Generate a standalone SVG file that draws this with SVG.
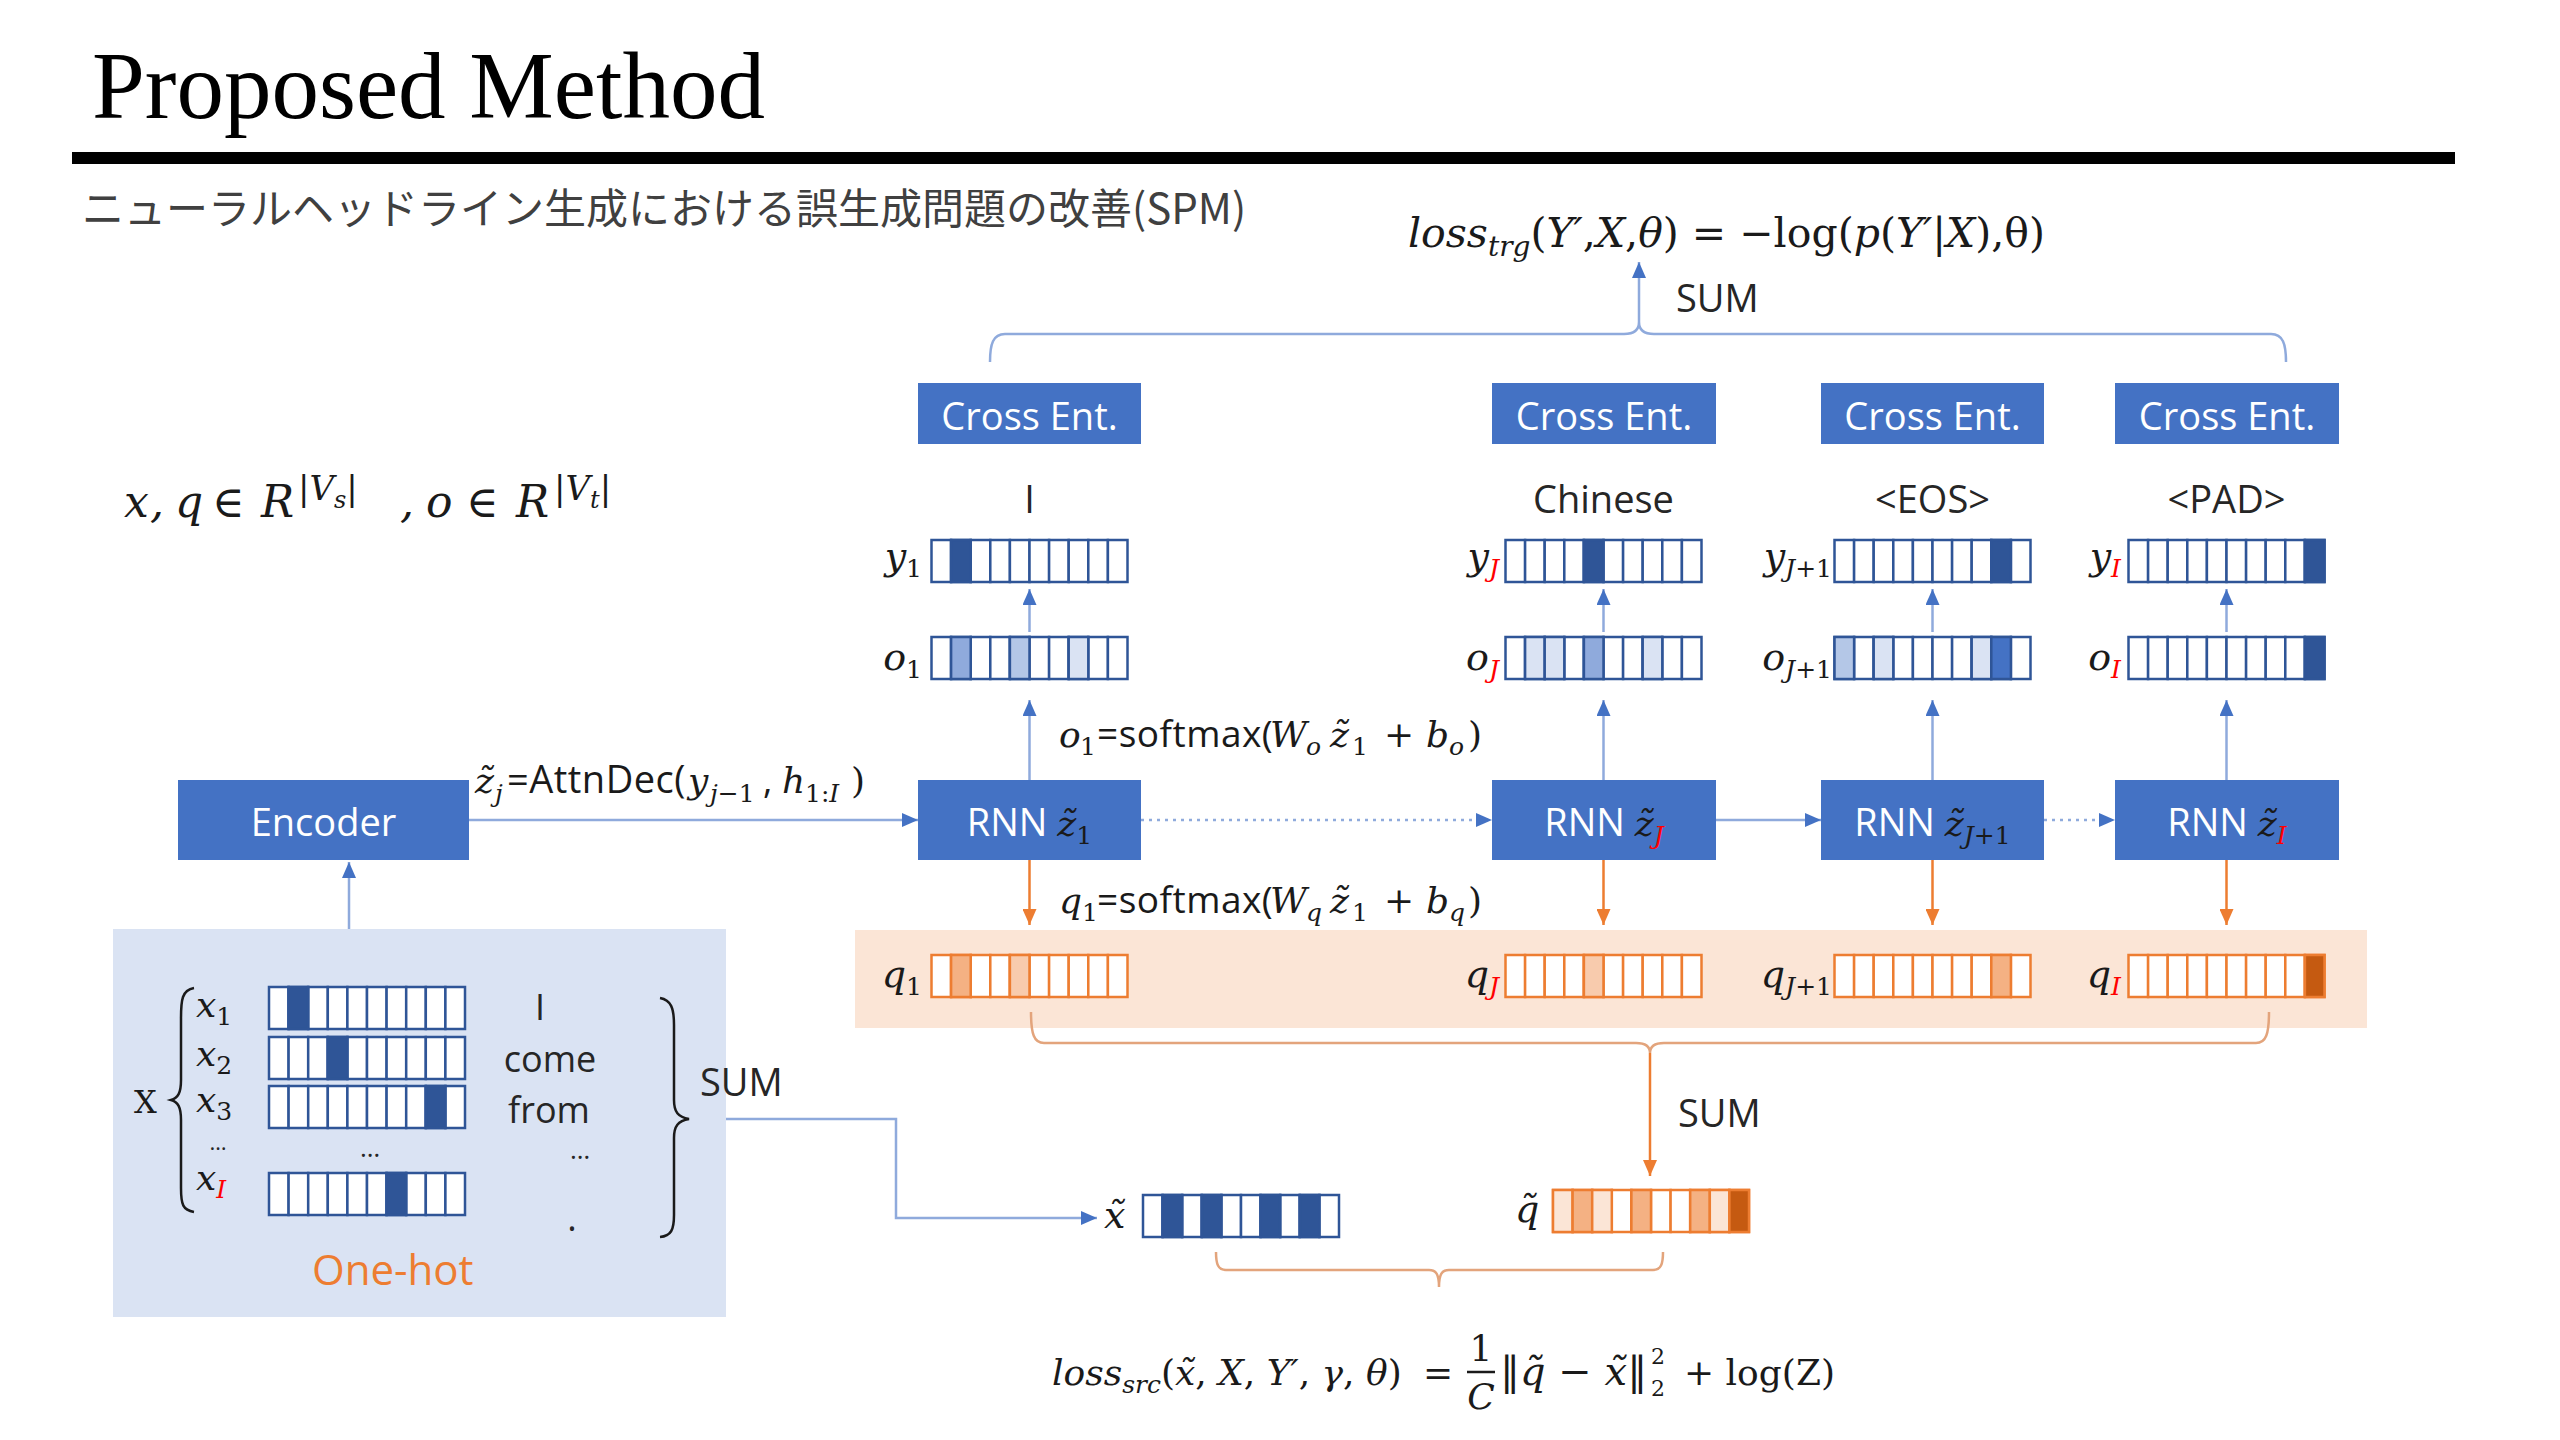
<svg xmlns="http://www.w3.org/2000/svg" xmlns:xlink="http://www.w3.org/1999/xlink" width="2560" height="1440" viewBox="0 0 2560 1440">
<style>
.t{font-family:"Open Sans","Noto Sans","Liberation Sans",sans-serif;fill:#262626;font-size:38px}
.w{fill:#ffffff}
.mi{font-family:"DejaVu Serif","Liberation Serif",serif;font-style:italic;fill:#1a1a1a;font-size:36px}
.mr{font-style:normal}
.ss{font-family:"Open Sans","Noto Sans","Liberation Sans",sans-serif;font-style:normal}
.sb{font-size:25px}
.red{fill:#ff0000}
.box{fill:#4472c4}
.cb{fill:#ffffff;stroke:#2f5597;stroke-width:2.5}
.co{fill:#ffffff;stroke:#ed7d31;stroke-width:2.5}
.dk{fill:#2f5597}
.b4{fill:#4472c4}
.m1{fill:#8faadc}
.m2{fill:#b4c7e7}
.l1{fill:#dae3f3}
.od{fill:#c55a11}
.om{fill:#f4b183}
.ol{fill:#f8cbad}
.ox{fill:#fbe5d6}
.ln{fill:none;stroke:#8faadc;stroke-width:2.5}
.lo{fill:none;stroke:#ed7d31;stroke-width:2.5}
.br{fill:none;stroke:#e3a47c;stroke-width:2.5}
.dot{stroke-dasharray:3 5}
.bk{fill:none;stroke:#1a1a1a;stroke-width:2.5}
.vl{font-size:38px}
</style>
<defs>
<marker id="ab" viewBox="0 0 16 14" refX="16" refY="7" markerWidth="16" markerHeight="14" markerUnits="userSpaceOnUse" orient="auto"><path d="M0,0 L16,7 L0,14 z" fill="#4472c4"/></marker>
<marker id="ao" viewBox="0 0 16 14" refX="16" refY="7" markerWidth="16" markerHeight="14" markerUnits="userSpaceOnUse" orient="auto"><path d="M0,0 L16,7 L0,14 z" fill="#ed7d31"/></marker>
<g id="vb">
<rect class="cb" x="0" y="0" width="19.6" height="42"/><rect class="cb" x="19.6" y="0" width="19.6" height="42"/><rect class="cb" x="39.2" y="0" width="19.6" height="42"/><rect class="cb" x="58.8" y="0" width="19.6" height="42"/><rect class="cb" x="78.4" y="0" width="19.6" height="42"/><rect class="cb" x="98" y="0" width="19.6" height="42"/><rect class="cb" x="117.6" y="0" width="19.6" height="42"/><rect class="cb" x="137.2" y="0" width="19.6" height="42"/><rect class="cb" x="156.8" y="0" width="19.6" height="42"/><rect class="cb" x="176.4" y="0" width="19.6" height="42"/>
</g>
<g id="vo">
<rect class="co" x="0" y="0" width="19.6" height="42"/><rect class="co" x="19.6" y="0" width="19.6" height="42"/><rect class="co" x="39.2" y="0" width="19.6" height="42"/><rect class="co" x="58.8" y="0" width="19.6" height="42"/><rect class="co" x="78.4" y="0" width="19.6" height="42"/><rect class="co" x="98" y="0" width="19.6" height="42"/><rect class="co" x="117.6" y="0" width="19.6" height="42"/><rect class="co" x="137.2" y="0" width="19.6" height="42"/><rect class="co" x="156.8" y="0" width="19.6" height="42"/><rect class="co" x="176.4" y="0" width="19.6" height="42"/>
</g>
</defs>

<rect width="2560" height="1440" fill="#ffffff"/>

<g id="header">
<text x="92" y="118" font-family="Liberation Serif, serif" font-size="95" fill="#000">Proposed Method</text>
<rect x="72" y="152" width="2383" height="12" fill="#000"/>
<text x="82" y="224" font-family="Noto Sans CJK JP, sans-serif" font-size="42" fill="#404040">ニューラルヘッドライン生成における誤生成問題の改善(SPM)</text>
</g>

<g id="domain-formula">
<text class="mi" y="517" style="font-size:44px"><tspan x="124">x</tspan><tspan x="150">,</tspan><tspan x="175">q</tspan><tspan x="212" class="mr">∈</tspan><tspan x="261">R</tspan><tspan x="298" y="500" style="font-size:34px" class="mr">|</tspan><tspan style="font-size:34px" y="500">V</tspan><tspan style="font-size:24px" y="508">s</tspan><tspan style="font-size:34px" y="500" class="mr">|</tspan><tspan x="400" y="517">,</tspan><tspan x="426">o</tspan><tspan x="466" class="mr">∈</tspan><tspan x="516">R</tspan><tspan x="554" y="500" style="font-size:34px" class="mr">|</tspan><tspan style="font-size:34px" y="500">V</tspan><tspan style="font-size:24px" y="508">t</tspan><tspan style="font-size:34px" y="500" class="mr">|</tspan></text>
</g>

<g id="loss-trg">
<text class="mi" x="1408" y="247" style="font-size:41px">loss<tspan style="font-size:28px" dy="9">trg</tspan><tspan class="mr" dy="-9">(</tspan>Y′<tspan class="mr">,</tspan>X<tspan class="mr">,</tspan>θ<tspan class="mr">) = −log(</tspan>p<tspan class="mr">(</tspan>Y′<tspan class="mr">|</tspan>X<tspan class="mr">),θ)</tspan></text>
<text class="t" x="1676" y="312">SUM</text>
</g>

<g id="connectors">
<path class="ln" d="M990,362 C990,344 993,334 1005,334 L1624,334 C1634,334 1639,330 1639,322 C1639,330 1644,334 1654,334 L2271,334 C2283,334 2286,344 2286,362"/>
<line class="ln" x1="1639" y1="322" x2="1639" y2="262" marker-end="url(#ab)"/>
<line class="ln" x1="1029.5" y1="632" x2="1029.5" y2="589" marker-end="url(#ab)"/>
<line class="ln" x1="1603.5" y1="632" x2="1603.5" y2="589" marker-end="url(#ab)"/>
<line class="ln" x1="1932.5" y1="632" x2="1932.5" y2="589" marker-end="url(#ab)"/>
<line class="ln" x1="2226.5" y1="632" x2="2226.5" y2="589" marker-end="url(#ab)"/>
<line class="ln" x1="1029.5" y1="780" x2="1029.5" y2="700" marker-end="url(#ab)"/>
<line class="ln" x1="1603.5" y1="780" x2="1603.5" y2="700" marker-end="url(#ab)"/>
<line class="ln" x1="1932.5" y1="780" x2="1932.5" y2="700" marker-end="url(#ab)"/>
<line class="ln" x1="2226.5" y1="780" x2="2226.5" y2="700" marker-end="url(#ab)"/>
<line class="ln" x1="469" y1="820" x2="918" y2="820" marker-end="url(#ab)"/>
<line class="ln dot" x1="1141" y1="820" x2="1492" y2="820" marker-end="url(#ab)"/>
<line class="ln" x1="1716" y1="820" x2="1821" y2="820" marker-end="url(#ab)"/>
<line class="ln dot" x1="2044" y1="820" x2="2115" y2="820" marker-end="url(#ab)"/>
<line class="ln" x1="349" y1="929" x2="349" y2="862" marker-end="url(#ab)"/>
<line class="lo" x1="1029.5" y1="860" x2="1029.5" y2="925" marker-end="url(#ao)"/>
<line class="lo" x1="1603.5" y1="860" x2="1603.5" y2="925" marker-end="url(#ao)"/>
<line class="lo" x1="1932.5" y1="860" x2="1932.5" y2="925" marker-end="url(#ao)"/>
<line class="lo" x1="2226.5" y1="860" x2="2226.5" y2="925" marker-end="url(#ao)"/>
<polyline class="ln" points="689,1119 896,1119 896,1218 1097,1218" marker-end="url(#ab)"/>
</g>

<g id="q-band">
<rect x="855" y="930" width="1512" height="98" fill="#fbe5d6"/>
</g>

<g id="q-sum">
<path class="br" d="M1031,1012 C1031,1034 1034,1043 1044,1043 L1636,1043 C1645,1043 1650,1046 1650,1053 C1650,1046 1655,1043 1664,1043 L2256,1043 C2266,1043 2269,1034 2269,1012"/>
<line class="lo" x1="1650" y1="1053" x2="1650" y2="1176" marker-end="url(#ao)"/>
<text class="t" x="1678" y="1127">SUM</text>
</g>

<g id="src-brace">
<path class="br" d="M1216,1252 C1216,1264 1218,1270 1226,1270 L1429,1270 C1436,1270 1439,1274 1439,1287 C1439,1274 1442,1270 1449,1270 L1653,1270 C1661,1270 1663,1264 1663,1252"/>
</g>

<g id="cross-ent-1"><rect class="box" x="918" y="383" width="223" height="61"/><text class="t w" x="1029.5" y="430" text-anchor="middle">Cross Ent.</text></g>
<g id="cross-ent-J"><rect class="box" x="1492" y="383" width="224" height="61"/><text class="t w" x="1604" y="430" text-anchor="middle">Cross Ent.</text></g>
<g id="cross-ent-J1"><rect class="box" x="1821" y="383" width="223" height="61"/><text class="t w" x="1932.5" y="430" text-anchor="middle">Cross Ent.</text></g>
<g id="cross-ent-I"><rect class="box" x="2115" y="383" width="224" height="61"/><text class="t w" x="2227" y="430" text-anchor="middle">Cross Ent.</text></g>

<g id="words">
<text class="t" x="1029.5" y="513" text-anchor="middle">I</text>
<text class="t" x="1603.5" y="513" text-anchor="middle">Chinese</text>
<text class="t" x="1932.5" y="513" text-anchor="middle">&lt;EOS&gt;</text>
<text class="t" x="2226.5" y="513" text-anchor="middle">&lt;PAD&gt;</text>
</g>

<g id="y-1" transform="translate(931.5,540)"><use xlink:href="#vb"/><rect class="cb dk" x="19.6" y="0" width="19.6" height="42"/></g>
<g id="y-J" transform="translate(1505.5,540)"><use xlink:href="#vb"/><rect class="cb dk" x="78.4" y="0" width="19.6" height="42"/></g>
<g id="y-J1" transform="translate(1834.5,540)"><use xlink:href="#vb"/><rect class="cb dk" x="156.8" y="0" width="19.6" height="42"/></g>
<g id="y-I" transform="translate(2128.5,540)"><use xlink:href="#vb"/><rect class="cb dk" x="176.4" y="0" width="19.6" height="42"/></g>

<g id="o-1" transform="translate(931.5,637)"><use xlink:href="#vb"/><rect class="cb m1" x="19.6" y="0" width="19.6" height="42"/><rect class="cb m2" x="78.4" y="0" width="19.6" height="42"/><rect class="cb l1" x="137.2" y="0" width="19.6" height="42"/></g>
<g id="o-J" transform="translate(1505.5,637)"><use xlink:href="#vb"/><rect class="cb l1" x="19.6" y="0" width="19.6" height="42"/><rect class="cb l1" x="39.2" y="0" width="19.6" height="42"/><rect class="cb m1" x="78.4" y="0" width="19.6" height="42"/><rect class="cb l1" x="137.2" y="0" width="19.6" height="42"/></g>
<g id="o-J1" transform="translate(1834.5,637)"><use xlink:href="#vb"/><rect class="cb m2" x="0" y="0" width="19.6" height="42"/><rect class="cb l1" x="39.2" y="0" width="19.6" height="42"/><rect class="cb l1" x="137.2" y="0" width="19.6" height="42"/><rect class="cb b4" x="156.8" y="0" width="19.6" height="42"/></g>
<g id="o-I" transform="translate(2128.5,637)"><use xlink:href="#vb"/><rect class="cb dk" x="176.4" y="0" width="19.6" height="42"/></g>

<g id="vec-labels">
<text class="mi vl" x="922" y="569" text-anchor="end">y<tspan class="mr sb" dy="8">1</tspan></text>
<text class="mi vl" x="1499" y="569" text-anchor="end">y<tspan class="sb red" dy="8">J</tspan></text>
<text class="mi vl" x="1832" y="569" text-anchor="end">y<tspan class="sb" dy="8">J</tspan><tspan class="mr sb">+1</tspan></text>
<text class="mi vl" x="2121" y="569" text-anchor="end">y<tspan class="sb red" dy="8">I</tspan></text>
<text class="mi vl" x="922" y="670" text-anchor="end">o<tspan class="mr sb" dy="8">1</tspan></text>
<text class="mi vl" x="1499" y="670" text-anchor="end">o<tspan class="sb red" dy="8">J</tspan></text>
<text class="mi vl" x="1832" y="670" text-anchor="end">o<tspan class="sb" dy="8">J</tspan><tspan class="mr sb">+1</tspan></text>
<text class="mi vl" x="2121" y="670" text-anchor="end">o<tspan class="sb red" dy="8">I</tspan></text>
<text class="mi vl" x="922" y="987" text-anchor="end">q<tspan class="mr sb" dy="8">1</tspan></text>
<text class="mi vl" x="1499" y="987" text-anchor="end">q<tspan class="sb red" dy="8">J</tspan></text>
<text class="mi vl" x="1832" y="987" text-anchor="end">q<tspan class="sb" dy="8">J</tspan><tspan class="mr sb">+1</tspan></text>
<text class="mi vl" x="2121" y="987" text-anchor="end">q<tspan class="sb red" dy="8">I</tspan></text>
</g>

<g id="encoder"><rect class="box" x="178" y="780" width="291" height="80"/><text class="t w" x="323.5" y="836" text-anchor="middle">Encoder</text></g>
<g id="rnn-1"><rect class="box" x="918" y="780" width="223" height="80"/><text class="t w" x="1029.5" y="836" text-anchor="middle">RNN <tspan class="mi w">z̃</tspan><tspan class="mi mr w sb" dy="8">1</tspan></text></g>
<g id="rnn-J"><rect class="box" x="1492" y="780" width="224" height="80"/><text class="t w" x="1604" y="836" text-anchor="middle">RNN <tspan class="mi w">z̃</tspan><tspan class="mi sb red" dy="8">J</tspan></text></g>
<g id="rnn-J1"><rect class="box" x="1821" y="780" width="223" height="80"/><text class="t w" x="1932.5" y="836" text-anchor="middle">RNN <tspan class="mi w">z̃</tspan><tspan class="mi w sb" dy="8">J</tspan><tspan class="mi mr w sb">+1</tspan></text></g>
<g id="rnn-I"><rect class="box" x="2115" y="780" width="224" height="80"/><text class="t w" x="2227" y="836" text-anchor="middle">RNN <tspan class="mi w">z̃</tspan><tspan class="mi sb red" dy="8">I</tspan></text></g>

<g id="attn-label">
<text class="mi"><tspan x="475" y="793">z̃</tspan><tspan class="sb" x="495" y="802">j</tspan><tspan class="ss" x="507" y="793" style="font-size:38px;letter-spacing:0.5px">=AttnDec(</tspan><tspan x="688" y="793">y</tspan><tspan class="sb" x="710" y="802">j</tspan><tspan class="mr sb" y="802">−1</tspan><tspan class="ss" x="763" y="793" style="font-size:36px">,</tspan><tspan x="782" y="793">h</tspan><tspan class="mr sb" x="805" y="802">1:</tspan><tspan class="sb" y="802">I</tspan><tspan class="mr" x="851" y="793">)</tspan></text>
</g>
<g id="o-formula">
<text class="mi"><tspan x="1059" y="747">o</tspan><tspan class="mr sb" x="1080" y="755">1</tspan><tspan class="ss" x="1097" y="747" style="font-size:37px;letter-spacing:0.5px">=softmax(</tspan><tspan x="1270" y="747">W</tspan><tspan class="sb" x="1306" y="755">o</tspan><tspan x="1330" y="747">z̃</tspan><tspan class="mr sb" x="1352" y="755">1</tspan><tspan class="mr" x="1384" y="747">+</tspan><tspan x="1426" y="747">b</tspan><tspan class="sb" x="1449" y="755">o</tspan><tspan class="mr" x="1468" y="747">)</tspan></text>
</g>
<g id="q-formula">
<text class="mi"><tspan x="1059" y="913">q</tspan><tspan class="mr sb" x="1082" y="921">1</tspan><tspan class="ss" x="1097" y="913" style="font-size:37px;letter-spacing:0.5px">=softmax(</tspan><tspan x="1270" y="913">W</tspan><tspan class="sb" x="1306" y="921">q</tspan><tspan x="1330" y="913">z̃</tspan><tspan class="mr sb" x="1352" y="921">1</tspan><tspan class="mr" x="1384" y="913">+</tspan><tspan x="1426" y="913">b</tspan><tspan class="sb" x="1449" y="921">q</tspan><tspan class="mr" x="1468" y="913">)</tspan></text>
</g>

<g id="q-1" transform="translate(931.5,955)"><use xlink:href="#vo"/><rect class="co om" x="19.6" y="0" width="19.6" height="42"/><rect class="co ol" x="78.4" y="0" width="19.6" height="42"/></g>
<g id="q-J" transform="translate(1505.5,955)"><use xlink:href="#vo"/><rect class="co ol" x="78.4" y="0" width="19.6" height="42"/></g>
<g id="q-J1" transform="translate(1834.5,955)"><use xlink:href="#vo"/><rect class="co om" x="156.8" y="0" width="19.6" height="42"/></g>
<g id="q-I" transform="translate(2128.5,955)"><use xlink:href="#vo"/><rect class="co od" x="176.4" y="0" width="19.6" height="42"/></g>

<g id="one-hot">
<rect x="113" y="929" width="613" height="388" fill="#dae3f3"/>
<text class="mi mr" x="134" y="1113" style="font-size:32px">X</text>
<path class="bk" d="M194,988 C182,990 181,1000 181,1018 L181,1080 C181,1093 178,1098 171,1100 C178,1102 181,1107 181,1120 L181,1188 C181,1205 183,1210 194,1212"/>
<text class="mi" x="196" y="1017">x<tspan class="mr sb" dy="8">1</tspan></text>
<text class="mi" x="196" y="1066">x<tspan class="mr sb" dy="8">2</tspan></text>
<text class="mi" x="196" y="1112">x<tspan class="mr sb" dy="8">3</tspan></text>
<text class="t" x="218" y="1150" text-anchor="middle" style="font-size:22px">…</text>
<text class="mi" x="196" y="1190">x<tspan class="sb red" dy="8">I</tspan></text>
<g transform="translate(269,987)"><use xlink:href="#vb"/><rect class="cb dk" x="19.6" y="0" width="19.6" height="42"/></g>
<g transform="translate(269,1037)"><use xlink:href="#vb"/><rect class="cb dk" x="58.8" y="0" width="19.6" height="42"/></g>
<g transform="translate(269,1086)"><use xlink:href="#vb"/><rect class="cb dk" x="156.8" y="0" width="19.6" height="42"/></g>
<text class="t" x="370" y="1157" text-anchor="middle" style="font-size:26px">…</text>
<g transform="translate(269,1173)"><use xlink:href="#vb"/><rect class="cb dk" x="117.6" y="0" width="19.6" height="42"/></g>
<text class="t" x="540" y="1020" text-anchor="middle" style="font-size:36px">I</text>
<text class="t" x="550" y="1072" text-anchor="middle" style="font-size:36px">come</text>
<text class="t" x="549" y="1123" text-anchor="middle" style="font-size:36px">from</text>
<text class="t" x="580" y="1159" text-anchor="middle" style="font-size:26px">…</text>
<text class="t" x="572" y="1231" text-anchor="middle" style="font-size:36px">.</text>
<path class="bk" d="M660,998 C671,1000 674,1008 674,1025 L674,1100 C674,1112 678,1117 689,1119 C678,1121 674,1126 674,1138 L674,1215 C674,1230 671,1236 660,1237"/>
<text class="t" x="312" y="1285" style="font-size:42px;fill:#ed7d31">One-hot</text>
<text class="t" x="700" y="1096">SUM</text>
</g>

<g id="x-tilde">
<text class="mi vl" x="1104" y="1228">x̃</text>
<g transform="translate(1143,1195)"><use xlink:href="#vb"/><rect class="cb dk" x="19.6" y="0" width="19.6" height="42"/><rect class="cb dk" x="58.8" y="0" width="19.6" height="42"/><rect class="cb dk" x="117.6" y="0" width="19.6" height="42"/><rect class="cb dk" x="156.8" y="0" width="19.6" height="42"/></g>
</g>
<g id="q-tilde">
<text class="mi vl" x="1515" y="1222">q̃</text>
<g transform="translate(1553,1190)"><use xlink:href="#vo"/><rect class="co ox" x="0" y="0" width="19.6" height="42"/><rect class="co om" x="19.6" y="0" width="19.6" height="42"/><rect class="co ox" x="39.2" y="0" width="19.6" height="42"/><rect class="co om" x="78.4" y="0" width="19.6" height="42"/><rect class="co om" x="137.2" y="0" width="19.6" height="42"/><rect class="co ox" x="156.8" y="0" width="19.6" height="42"/><rect class="co od" x="176.4" y="0" width="19.6" height="42"/></g>
</g>

<g id="loss-src">
<text class="mi" x="1052" y="1385">loss<tspan class="sb" dy="8">src</tspan><tspan class="mr" dy="-8">(</tspan>x̃<tspan class="mr">, </tspan>X<tspan class="mr">, </tspan>Y′<tspan class="mr">, </tspan>γ<tspan class="mr">, </tspan>θ<tspan class="mr">)</tspan></text>
<text class="mi mr" x="1423" y="1385">=</text>
<text class="mi mr" x="1481" y="1361" text-anchor="middle">1</text>
<line x1="1467" y1="1372" x2="1495" y2="1372" stroke="#1a1a1a" stroke-width="2.5"/>
<text class="mi" x="1481" y="1409" text-anchor="middle">C</text>
<text class="mi" x="1500" y="1385" style="font-size:40px"><tspan class="mr">‖</tspan>q̃<tspan class="mr"> − </tspan>x̃<tspan class="mr">‖</tspan></text>
<text class="mi mr" x="1651" y="1364" style="font-size:22px">2</text>
<text class="mi mr" x="1651" y="1396" style="font-size:22px">2</text>
<text class="mi mr" x="1684" y="1385">+ log(Z)</text>
</g>
</svg>
